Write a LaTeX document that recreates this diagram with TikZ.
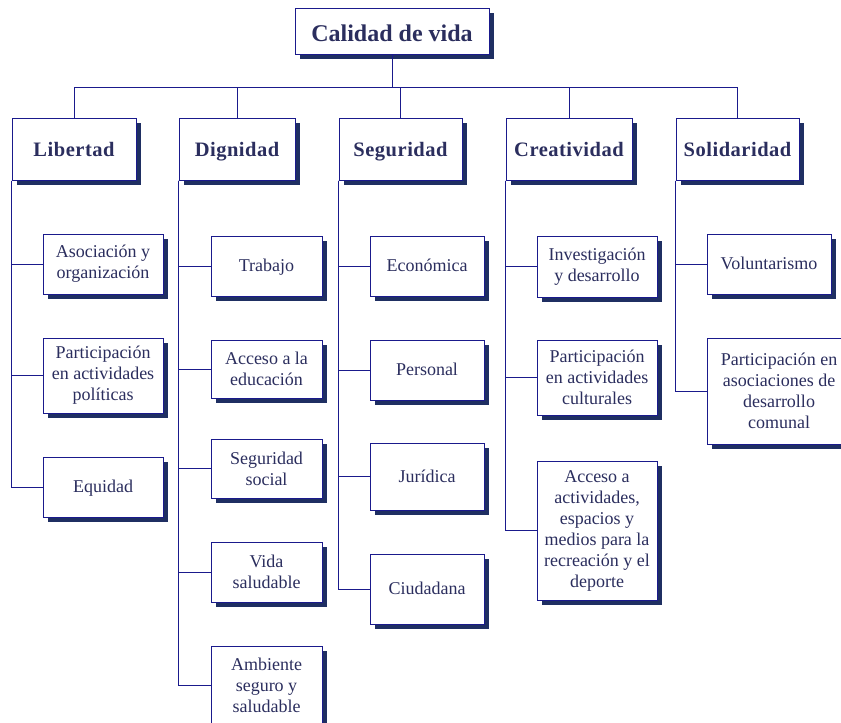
\documentclass[tikz,border=0pt]{standalone}
\usepackage{fontspec}
\setmainfont{Liberation Serif}
\usetikzlibrary{shadows}
\definecolor{bordc}{HTML}{1A1A8C}
\definecolor{txtc}{HTML}{2B2E5E}
\definecolor{shdc}{HTML}{1F2F62}
\tikzset{
  box/.style={draw=bordc, line width=1pt, fill=white, text=txtc, align=center,
    inner sep=1pt, general shadow={fill=shdc, shadow xshift=5pt, shadow yshift=-5pt},
    font={\fontsize{18}{21}\selectfont}},
  single/.style={text height=12.5pt, text depth=1pt},
  catbox/.style={box, text height=16.5pt, text depth=1pt,
    font={\fontsize{20.5}{24}\selectfont\bfseries\addfontfeature{LetterSpace=2.5}}},
  topbox/.style={box, text height=21.5pt, text depth=0pt, font={\fontsize{24}{28}\selectfont\bfseries}},
  conn/.style={draw=bordc, line width=1pt},
}
\begin{document}
\begin{tikzpicture}[x=1pt, y=-1pt]
\useasboundingbox (0,0) rectangle (841,723);
% top
\node[topbox, minimum width=194pt, minimum height=46pt] (top) at (392,31) {Calidad de vida};
% categories
\node[catbox, minimum width=124pt, minimum height=62pt] (lib) at (74,149) {Libertad};
\node[catbox, minimum width=116pt, minimum height=62pt] (dig) at (237,149) {Dignidad};
\node[catbox, minimum width=123pt, minimum height=62pt] (seg) at (400.5,149) {Seguridad};
\node[catbox, minimum width=126pt, minimum height=62pt] (cre) at (569,149) {Creatividad};
\node[catbox, minimum width=123pt, minimum height=62pt] (sol) at (737.5,149) {Solidaridad};
% Libertad
\node[box, minimum width=120pt, minimum height=60pt] (l1) at (103,264) {Asociación y\\organización};
\node[box, minimum width=120pt, minimum height=75pt] (l2) at (103,375.5) {Participación\\en actividades\\políticas};
\node[box, single, minimum width=120pt, minimum height=60pt] (l3) at (103,487) {Equidad};
% Dignidad
\node[box, single, minimum width=111pt, minimum height=60pt] (d1) at (266.5,266) {Trabajo};
\node[box, minimum width=111pt, minimum height=58pt] (d2) at (266.5,369) {Acceso a la\\educación};
\node[box, minimum width=111pt, minimum height=59pt] (d3) at (266.5,468.5) {Seguridad\\social};
\node[box, minimum width=111pt, minimum height=60pt] (d4) at (266.5,572) {Vida\\saludable};
\node[box, minimum width=111pt, minimum height=78pt] (d5) at (266.5,685) {Ambiente\\seguro y\\saludable};
% Seguridad
\node[box, single, minimum width=114pt, minimum height=60pt] (s1) at (427,266) {Económica};
\node[box, single, minimum width=114pt, minimum height=60pt] (s2) at (427,370) {Personal};
\node[box, single, minimum width=114pt, minimum height=67pt] (s3) at (427,476.5) {Jurídica};
\node[box, single, minimum width=114pt, minimum height=70pt] (s4) at (427,589) {Ciudadana};
% Creatividad
\node[box, minimum width=120pt, minimum height=61pt] (c1) at (597,266.5) {Investigación\\y desarrollo};
\node[box, minimum width=120pt, minimum height=75pt] (c2) at (597,377.5) {Participación\\en actividades\\culturales};
\node[box, minimum width=120pt, minimum height=139pt] (c3) at (597,530.5) {Acceso a\\actividades,\\espacios y\\medios para la\\recreación y el\\deporte};
% Solidaridad
\node[box, single, minimum width=124pt, minimum height=60pt] (o1) at (769,264) {Voluntarismo};
\node[box, minimum width=144pt, minimum height=106pt] (o2) at (779,391) {Participación en\\asociaciones de\\desarrollo\\comunal};
% connectors top
\coordinate (bus) at (0,87);
\draw[conn] (top.south) -- (top.south |- bus);
\draw[conn] (lib.north) -- (lib.north |- bus) -- (sol.north |- bus) -- (sol.north);
\draw[conn] (dig.north) -- (dig.north |- bus);
\draw[conn] (seg.north) -- (seg.north |- bus);
\draw[conn] (cre.north) -- (cre.north |- bus);
% column connectors
\foreach \c/\s in {lib/l1,lib/l2,lib/l3,dig/d1,dig/d2,dig/d3,dig/d4,dig/d5,seg/s1,seg/s2,seg/s3,seg/s4,cre/c1,cre/c2,cre/c3,sol/o1,sol/o2}
  \draw[conn] (\c.south west) |- (\s.west);
\end{tikzpicture}
\end{document}
